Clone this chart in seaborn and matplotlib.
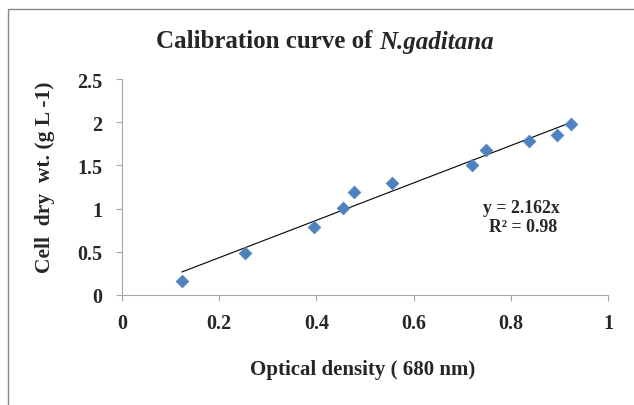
import numpy as np
import pandas as pd
import seaborn as sns
import matplotlib
matplotlib.use("Agg")
import matplotlib.pyplot as plt
from matplotlib.patches import Rectangle

# data
optical_density = [0.123, 0.254, 0.395, 0.455, 0.478, 0.556, 0.721, 0.749, 0.837, 0.896, 0.924]
cell_dry_wt = [0.165, 0.49, 0.79, 1.01, 1.195, 1.30, 1.51, 1.68, 1.78, 1.855, 1.98]
slope = 2.162
r_squared = 0.98
x_ticks = [0, 0.2, 0.4, 0.6, 0.8, 1]
y_ticks = [0, 0.5, 1, 1.5, 2, 2.5]

sns.set_theme(style="white")
plt.rcParams['font.family'] = ['Liberation Serif', 'DejaVu Serif']

W, H = 634, 406
df = pd.DataFrame({"od": optical_density, "cdw": cell_dry_wt})

fig = plt.figure(figsize=(W / 100, H / 100), dpi=100)
fig.patches.append(Rectangle((8 / W, -0.1), 1.2, 1 - 10 / H + 0.1, transform=fig.transFigure,
                             fill=False, edgecolor='#888888', linewidth=1.0, zorder=0))
ax = fig.add_axes([122 / W, 1 - 296 / H, (608 - 122) / W, (296 - 80) / H])

sns.scatterplot(data=df, x="od", y="cdw", ax=ax, marker="D", s=42, color="#4F81BD",
                edgecolor="#4F81BD", linewidth=0.5, zorder=3)
xl = np.array([min(optical_density), max(optical_density)])
sns.lineplot(x=xl, y=slope * xl, ax=ax, color="black", linewidth=0.8, zorder=2)

ax.set_xlim(0, 1)
ax.set_ylim(0, 2.5)
ax.set_xticks(x_ticks)
ax.set_yticks(y_ticks)
ax.set_xticklabels([f"{t:g}" for t in x_ticks], fontweight='bold', fontsize=14.5)
ax.set_yticklabels([f"{t:g}" for t in y_ticks], fontweight='bold', fontsize=14.5)
for s in ["top", "right"]:
    ax.spines[s].set_visible(False)
for s in ["left", "bottom"]:
    ax.spines[s].set_color("#A6A6A6")
    ax.spines[s].set_linewidth(0.8)
ax.tick_params(axis='both', direction='out', length=4, width=0.8, color="#A6A6A6",
               bottom=True, left=True)
ax.tick_params(axis='x', pad=9)
ax.tick_params(axis='y', pad=10)

ax.set_xlabel("Optical density ( 680 nm)", fontweight='bold', fontsize=15, va='center')
ax.xaxis.set_label_coords((363 - 122) / 486, (296 - 370) / 216)
ax.set_ylabel("Cell  dry  wt. (g L -1)", fontweight='bold', fontsize=15.5, va='center', ha='center')
ax.yaxis.set_label_coords((45 - 122) / 486, (296 - 177) / 216)

fig.text(521 / W, 1 - 209 / H, f"y = {slope}x", ha='center', va='center',
         fontweight='bold', fontsize=12.8)
fig.text(523 / W, 1 - 228 / H, f"R² = {r_squared}", ha='center', va='center',
         fontweight='bold', fontsize=12.8)

# title: two parts, centred as a whole
title_y = 1 - 42 / H
t1 = fig.text(0, title_y, "Calibration curve of ", ha='left', va='center',
              fontweight='bold', fontsize=18)
t2 = fig.text(0, title_y, "N.gaditana", ha='left', va='center',
              fontweight='bold', fontstyle='italic', fontsize=18)
r = fig.canvas.get_renderer()
w1 = t1.get_window_extent(r).width
w2 = t2.get_window_extent(r).width
x0 = 325 - (w1 + w2) / 2
t1.set_x(x0 / W)
t2.set_x((x0 + w1) / W)

fig.savefig("out.png", dpi=100)
